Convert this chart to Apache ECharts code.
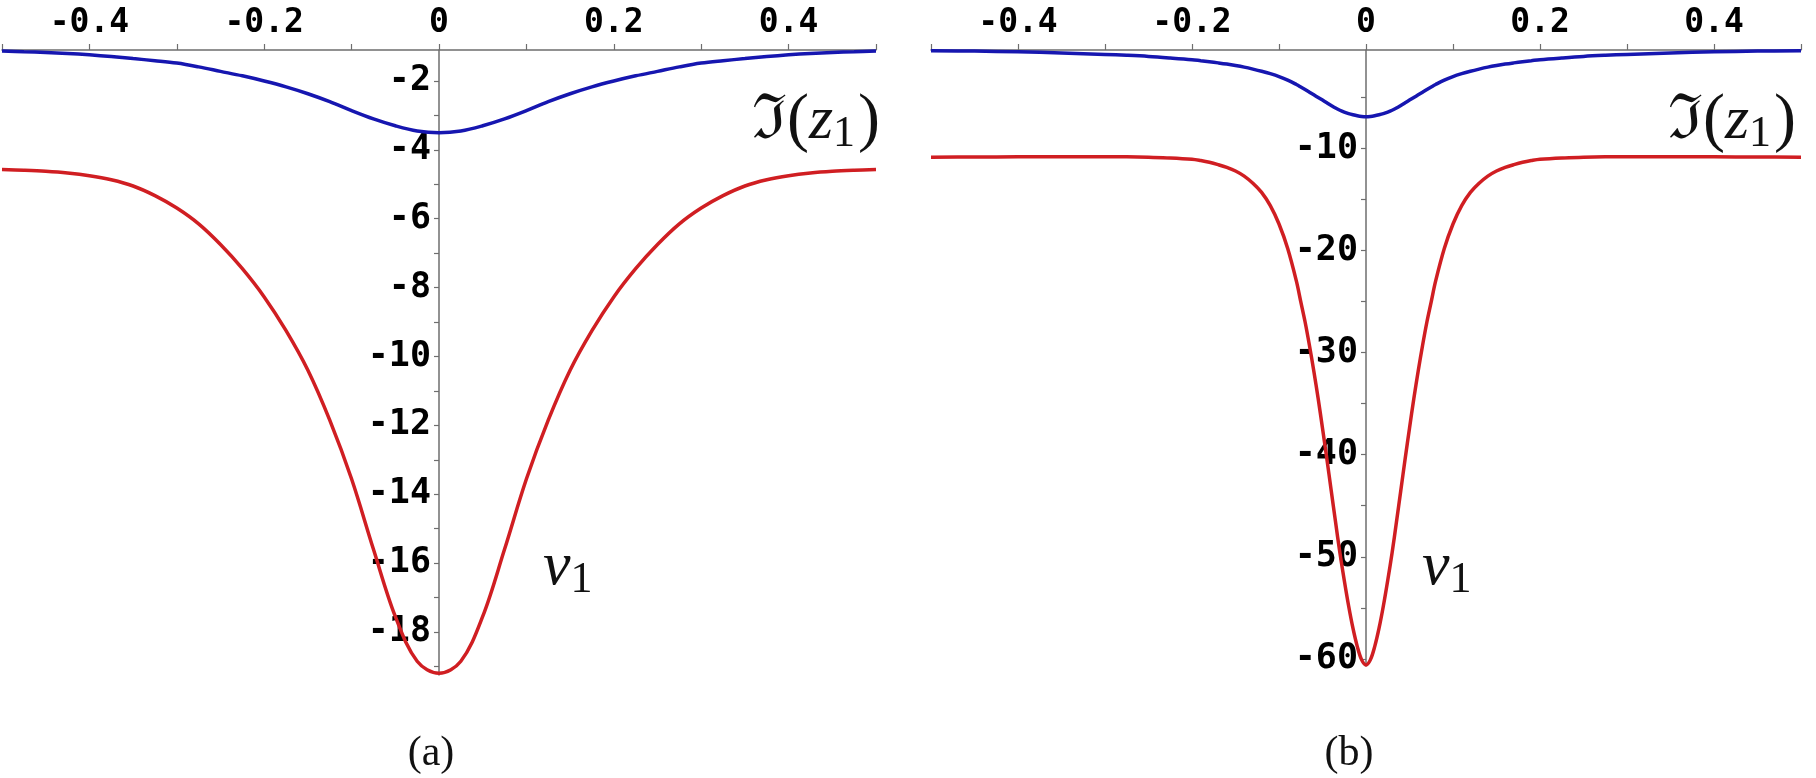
<!DOCTYPE html>
<html>
<head>
<meta charset="utf-8">
<script src="https://cdn.jsdelivr.net/npm/echarts@6/dist/echarts.min.js"></script>
<style>html,body{margin:0;padding:0;background:#fff}#c{width:1816px;height:778px}</style>
</head>
<body>
<div id="c"></div>
<script>
// ---- Panel (a) ----
const xA = [-0.5,-0.475,-0.45,-0.425,-0.4,-0.375,-0.35,-0.325,-0.3,-0.275,-0.25,-0.225,-0.2,-0.175,-0.15,-0.125,-0.1,-0.075,-0.05,-0.025,0,
            0.025,0.05,0.075,0.1,0.125,0.15,0.175,0.2,0.225,0.25,0.275,0.3,0.325,0.35,0.375,0.4,0.425,0.45,0.475,0.5];
const imA = [-1.13,-1.15,-1.17,-1.2,-1.24,-1.29,-1.35,-1.41,-1.48,-1.59,-1.72,-1.85,-2.0,-2.17,-2.37,-2.6,-2.86,-3.1,-3.3,-3.45,-3.5,
             -3.45,-3.3,-3.1,-2.86,-2.6,-2.37,-2.17,-2.0,-1.85,-1.72,-1.59,-1.48,-1.41,-1.35,-1.29,-1.24,-1.2,-1.17,-1.15,-1.13];
const vA = [-4.57,-4.59,-4.62,-4.67,-4.75,-4.87,-5.05,-5.33,-5.69,-6.15,-6.75,-7.45,-8.27,-9.25,-10.4,-11.85,-13.56,-15.6,-17.55,-18.85,-19.2,
            -18.85,-17.55,-15.6,-13.56,-11.85,-10.4,-9.25,-8.27,-7.45,-6.75,-6.15,-5.69,-5.33,-5.05,-4.87,-4.75,-4.67,-4.62,-4.59,-4.57];
const yLabelsA = [-18,-16,-14,-12,-10,-8,-6,-4,-2];
const yTicksA = [-19,-18,-17,-16,-15,-14,-13,-12,-11,-10,-9,-8,-7,-6,-5,-4,-3,-2];

// ---- Panel (b) ----
const xB = [-0.5,-0.45,-0.4,-0.35,-0.3,-0.275,-0.25,-0.225,-0.2,-0.19,-0.18,-0.17,-0.16,-0.15,-0.14,-0.13,-0.12,-0.11,-0.1,-0.09,-0.08,-0.075,-0.07,-0.065,-0.06,-0.055,-0.05,-0.045,-0.04,-0.035,-0.03,-0.025,-0.02,-0.015,-0.01,-0.005,0,
            0.005,0.01,0.015,0.02,0.025,0.03,0.035,0.04,0.045,0.05,0.055,0.06,0.065,0.07,0.075,0.08,0.09,0.1,0.11,0.12,0.13,0.14,0.15,0.16,0.17,0.18,0.19,0.2,0.225,0.25,0.275,0.3,0.35,0.4,0.45,0.5];
const imB = [-0.42,-0.46,-0.53,-0.64,-0.78,-0.87,-0.98,-1.13,-1.3,-1.4,-1.5,-1.61,-1.73,-1.87,-2.03,-2.22,-2.43,-2.67,-2.95,-3.3,-3.73,-3.97,-4.22,-4.48,-4.74,-5.0,-5.26,-5.52,-5.78,-6.03,-6.25,-6.43,-6.58,-6.7,-6.8,-6.87,-6.9,
             -6.87,-6.8,-6.7,-6.58,-6.43,-6.25,-6.03,-5.78,-5.52,-5.26,-5.0,-4.74,-4.48,-4.22,-3.97,-3.73,-3.3,-2.95,-2.67,-2.43,-2.22,-2.03,-1.87,-1.73,-1.61,-1.5,-1.4,-1.3,-1.13,-0.98,-0.87,-0.78,-0.64,-0.53,-0.46,-0.42];
const vB = [-10.85,-10.84,-10.82,-10.8,-10.8,-10.82,-10.86,-10.92,-11.05,-11.18,-11.35,-11.58,-11.85,-12.2,-12.7,-13.4,-14.3,-15.6,-17.4,-19.8,-23.0,-25.0,-27.0,-29.3,-31.8,-34.5,-37.4,-40.4,-43.5,-46.6,-49.6,-52.3,-54.8,-57.0,-58.8,-60.1,-60.6,
            -60.1,-58.8,-57.0,-54.8,-52.3,-49.6,-46.6,-43.5,-40.4,-37.4,-34.5,-31.8,-29.3,-27.0,-25.0,-23.0,-19.8,-17.4,-15.6,-14.3,-13.4,-12.7,-12.2,-11.85,-11.58,-11.35,-11.18,-11.05,-10.92,-10.86,-10.82,-10.8,-10.8,-10.82,-10.84,-10.85];
const yLabelsB = [-60,-50,-40,-30,-20,-10];
const yTicksB = [-60,-55,-50,-45,-40,-35,-30,-25,-20,-15,-10,-5];

const captions = ['(a)', '(b)'];

const pairs = (xs, ys) => xs.map((x, i) => [x, ys[i]]);

const AX = '#6e6e6e';
const MONO = "'DejaVu Sans Mono', monospace";
const SERIF = "'Liberation Serif', 'DejaVu Serif', serif";
const BLUE = '#1616b0';
const RED = '#d01e22';

const GRIDS = [
  { left: 2, top: 50, width: 874, height: 625 },
  { left: 931, top: 50, width: 870, height: 616 }
];

function xAxisCfg(gi) {
  return {
    gridIndex: gi, type: 'value', min: -0.5, max: 0.5, interval: 0.1, position: 'top',
    axisLine: { onZero: false, lineStyle: { color: AX, width: 1.5 } },
    axisTick: { show: true, inside: false, length: 6, lineStyle: { color: AX, width: 1.2 } },
    axisLabel: {
      margin: 10, fontFamily: MONO, fontWeight: 'bold', fontSize: 33, color: '#000',
      showMinLabel: true, showMaxLabel: true, hideOverlap: false,
      formatter: v => { const k = Math.round(v * 10); if (k % 2 !== 0 || Math.abs(k) === 5) return ''; return k === 0 ? '0' : (k / 10).toFixed(1); }
    },
    splitLine: { show: false }
  };
}
function yAxisCfg(gi, min, max, labels, ticks) {
  // place the vertical axis on x = 0 (centre of the grid)
  const off = -GRIDS[gi].width / 2;
  return {
    gridIndex: gi, type: 'value', min: min, max: max, position: 'left', offset: off,
    axisLine: { onZero: false, lineStyle: { color: AX, width: 1.5 } },
    axisTick: { show: true, inside: false, length: 5, customValues: ticks, lineStyle: { color: AX, width: 1.2 } },
    axisLabel: { customValues: labels, margin: 8, fontFamily: MONO, fontWeight: 'bold', fontSize: 35, color: '#000', hideOverlap: false },
    splitLine: { show: false }
  };
}
function line(gi, xs, ys, color) {
  return {
    type: 'line', xAxisIndex: gi, yAxisIndex: gi, data: pairs(xs, ys), smooth: 0.35,
    showSymbol: false, clip: false, lineStyle: { color: color, width: 3.5 }, itemStyle: { color: color },
    z: 5
  };
}
function imLabel(x, y) {
  return {
    type: 'text', x: x, y: y,
    style: {
      text: '{a|ℑ}{b|(}{c|z}{d|1}{b|)}', verticalAlign: 'middle',
      rich: {
        a: { fontFamily: SERIF, fontSize: 62, fill: '#111' },
        b: { fontFamily: SERIF, fontSize: 66, fill: '#111' },
        c: { fontFamily: SERIF, fontStyle: 'italic', fontSize: 62, fill: '#111' },
        d: { fontFamily: SERIF, fontSize: 44, fill: '#111', padding: [24, 3, 0, 0] }
      }
    }
  };
}
function vLabel(x, y) {
  return {
    type: 'text', x: x, y: y,
    style: {
      text: '{c|v}{d|1}', verticalAlign: 'middle',
      rich: {
        c: { fontFamily: SERIF, fontStyle: 'italic', fontSize: 62, fill: '#111' },
        d: { fontFamily: SERIF, fontSize: 44, fill: '#111', padding: [24, 0, 0, 0] }
      }
    }
  };
}

const chart = echarts.init(document.getElementById('c'), null, { renderer: 'canvas' });
chart.setOption({
  backgroundColor: '#fff',
  animation: false,
  grid: GRIDS.map(g => Object.assign({ containLabel: false, outerBoundsMode: 'none' }, g)),
  xAxis: [xAxisCfg(0), xAxisCfg(1)],
  yAxis: [yAxisCfg(0, -19.25, -1.1, yLabelsA, yTicksA), yAxisCfg(1, -60.7, -0.35, yLabelsB, yTicksB)],
  series: [
    line(0, xA, imA, BLUE), line(0, xA, vA, RED),
    line(1, xB, imB, BLUE), line(1, xB, vB, RED)
  ],
  graphic: [
    imLabel(752, 122), imLabel(1668, 122),
    vLabel(543, 568), vLabel(1422, 568),
    { type: 'text', x: 431, y: 754, style: { text: captions[0], align: 'center', verticalAlign: 'middle', fontFamily: SERIF, fontSize: 42, fill: '#111' } },
    { type: 'text', x: 1349, y: 754, style: { text: captions[1], align: 'center', verticalAlign: 'middle', fontFamily: SERIF, fontSize: 42, fill: '#111' } }
  ]
});
</script>
</body>
</html>
